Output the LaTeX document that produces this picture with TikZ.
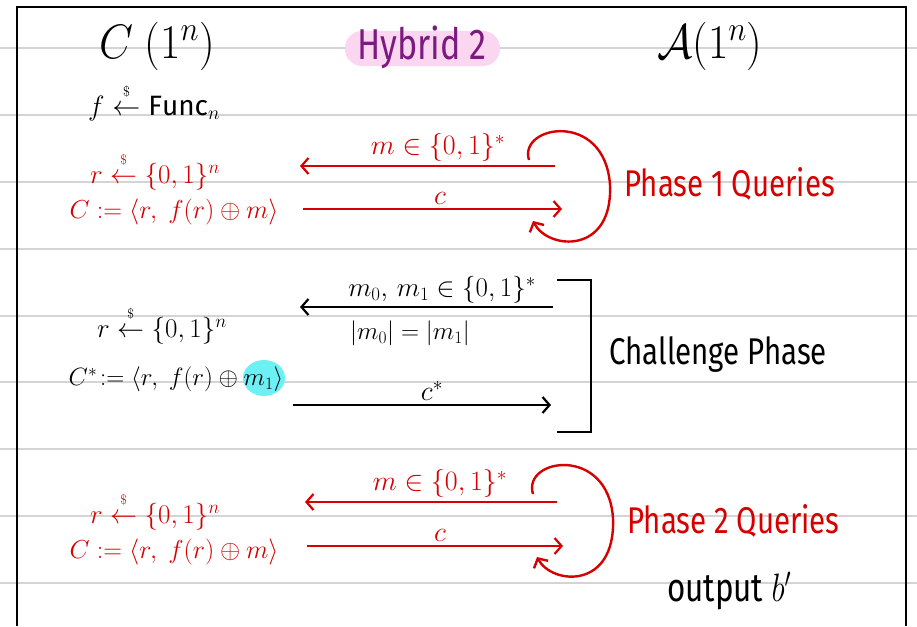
\RequirePackage{fix-cm}
\documentclass[tikz,border=0pt]{standalone}
\usepackage{amsmath,amssymb}
\usepackage{graphicx}
\usepackage{fontspec}
\setmainfont{Fira Sans}
\usetikzlibrary{arrows.meta}
\definecolor{hwred}{HTML}{D60000}
\definecolor{hwpurple}{HTML}{7D1A80}
\definecolor{hwpink}{HTML}{FBD6F0}
\definecolor{hwcyan}{HTML}{6CF0F4}
\definecolor{ruled}{HTML}{D4D4D4}
\newcommand{\hw}[1]{\scalebox{0.95}[1.2]{#1}}
\newcommand{\hm}[1]{\scalebox{1}[1.1]{#1}}
\newcommand{\samp}{\overset{\raisebox{3pt}{$\scriptscriptstyle\$$}}{\leftarrow}}
\tikzset{
  txt/.style={inner sep=0pt},
  fs/.style={font=\fontsize{#1}{#1}\selectfont},
  msg/.style={line width=2.2pt, -{Straight Barb[length=7pt,width=16pt]}},
  loop/.style={line width=2.4pt, -{Straight Barb[length=7pt,width=16pt]}},
  redc/.style={hwred},
}
\begin{document}
\begin{tikzpicture}[x=1pt,y=-1pt]
\useasboundingbox (0,0) rectangle (917,626);
% ruled paper lines
\foreach \yy in {48,115,182,249,316,382,449,516,583}
  \draw[ruled, line width=1.3pt] (0,\yy) -- (917,\yy);
% frame
\draw[line width=2.6pt] (17,626) -- (17,7) -- (906,7) -- (906,626);

% header
\node[txt, fs=44] (chal) at (157,46) {\hm{$C\ (1^n)$}};
\fill[hwpink] (345,31) [rounded corners=17pt] rectangle (500,66);
\node[txt, fs=36, text=hwpurple] (hyb) at (422,47) {\hw{Hybrid 2}};
\node[txt, fs=44] (adv) at (710,46) {\hm{$\mathcal{A}(1^n)$}};
\node[txt, fs=28, anchor=west] (func) at (88,102) {$f \samp \mathrm{Func}_n$};

% Phase 1
\node[txt, fs=27, redc] (r1) at (155,171) {$r \samp \{0,1\}^n$};
\node[txt, fs=26, redc] (c1) at (174,212) {$C := \langle r,\ f(r)\oplus m\rangle$};
\coordinate (p1a) at (555,166);
\coordinate (p1b) at (300,166);
\coordinate (p1c) at (303,209);
\coordinate (p1d) at (562,209);
\draw[msg, hwred] (p1a) -- (p1b);
\draw[msg, hwred] (p1c) -- (p1d);
\node[txt, fs=28, redc, anchor=south] (l1a) at (438,162) {$m\in\{0,1\}^*$};
\node[txt, fs=28, redc, anchor=south] (l1b) at (440,205) {$c$};
\coordinate (q1s) at (529,160);
\coordinate (q1r) at (610,185);
\coordinate (q1e) at (533,221);
\draw[loop, hwred] (q1s) .. controls (518,125) and (605,110) .. (q1r)
  .. controls (613,255) and (548,250) .. (q1e);
\node[txt, fs=31, redc, anchor=west] (ph1) at (624,184) {\hw{Phase 1 Queries}};

% Challenge phase
\node[txt, fs=27] (r2) at (162,325) {$r \samp \{0,1\}^n$};
\fill[hwcyan] (264,378) ellipse [x radius=21pt, y radius=18pt];
\node[txt, fs=25] (c2) at (176,379) {$C^{*}\!:= \langle r,\ f(r)\oplus m_1\rangle$};
\coordinate (cha) at (553,307);
\coordinate (chb) at (300,307);
\coordinate (chc) at (293,405);
\coordinate (chd) at (551,405);
\draw[msg] (cha) -- (chb);
\draw[msg] (chc) -- (chd);
\node[txt, fs=27, anchor=south] (l2a) at (442,303) {$m_0,\,m_1\in\{0,1\}^*$};
\node[txt, fs=25] (l2b) at (410,333) {$|m_0| = |m_1|$};
\node[txt, fs=28, anchor=south] (l2c) at (432,401) {$c^{*}$};
\coordinate (bt1) at (557,280);
\coordinate (bt2) at (591,280);
\coordinate (bb2) at (591,432);
\coordinate (bb1) at (557,432);
\draw[line width=2.2pt] (bt1) -- (bt2) -- (bb2) -- (bb1);
\node[txt, fs=31, anchor=west] (chp) at (609,355) {\hw{Challenge Phase}};

% Phase 2
\node[txt, fs=27, redc] (r3) at (155,511) {$r \samp \{0,1\}^n$};
\node[txt, fs=26, redc] (c3) at (174,552) {$C := \langle r,\ f(r)\oplus m\rangle$};
\coordinate (p2a) at (557,502);
\coordinate (p2b) at (305,502);
\coordinate (p2c) at (307,546);
\coordinate (p2d) at (563,546);
\draw[msg, hwred] (p2a) -- (p2b);
\draw[msg, hwred] (p2c) -- (p2d);
\node[txt, fs=28, redc, anchor=south] (l3a) at (440,498) {$m\in\{0,1\}^*$};
\node[txt, fs=28, redc, anchor=south] (l3b) at (440,542) {$c$};
\coordinate (q2s) at (533,494);
\coordinate (q2r) at (613,518);
\coordinate (q2e) at (537,557);
\draw[loop, hwred] (q2s) .. controls (522,458) and (608,445) .. (q2r)
  .. controls (616,590) and (552,585) .. (q2e);
\node[txt, fs=31, redc, anchor=west] (ph2) at (627,521) {\hw{Phase 2 Queries}};
\node[txt, fs=33, anchor=west] (out) at (667,591) {\hw{output $b'$}};
\end{tikzpicture}
\end{document}
